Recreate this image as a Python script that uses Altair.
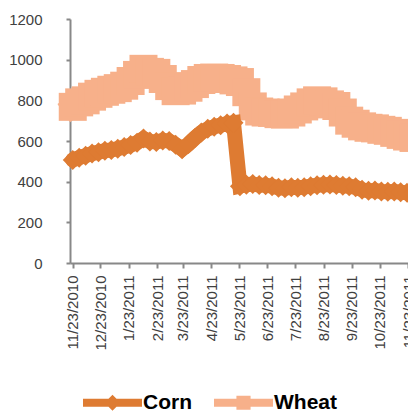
import altair as alt
import pandas as pd

# Weekly settlement readings, starting 11/23/2010
week_start = "2010-11-23"
n_weeks = 54

series_names = ["Corn", "Wheat"]
series_colors = ["#DE7B32", "#F7B08A"]

corn = [507, 518, 528, 538, 545, 552, 556, 562, 570, 580,
        592, 612, 598, 595, 603, 600, 582, 560, 585, 615,
        642, 660, 670, 678, 686, 690, 378, 385, 388, 383,
        382, 378, 370, 368, 372, 370, 373, 378, 382, 385,
        386, 384, 380, 378, 372, 360, 355, 356, 352, 350,
        352, 348, 345, 345]

wheat = [768, 790, 800, 818, 832, 842, 852, 860, 872, 895,
         925, 955, 940, 935, 905, 870, 845, 848, 862, 880,
         900, 910, 912, 910, 905, 898, 890, 840, 770, 745,
         740, 738, 732, 730, 740, 755, 770, 790, 800, 795,
         780, 772, 740, 700, 685, 672, 665, 662, 655, 650,
         640, 630, 622, 615]

tick_dates = [(2010, 11), (2010, 12), (2011, 1), (2011, 2), (2011, 3),
              (2011, 4), (2011, 5), (2011, 6), (2011, 7), (2011, 8),
              (2011, 9), (2011, 10), (2011, 11)]
y_ticks = [0, 200, 400, 600, 800, 1000, 1200]

dates = pd.date_range(week_start, periods=n_weeks, freq="7D")
df = pd.concat([
    pd.DataFrame({"date": dates, "series": "Corn", "value": corn}),
    pd.DataFrame({"date": dates, "series": "Wheat", "value": wheat}),
])

FONT = "Liberation Sans"
AXIS_GRAY = "#888888"
LABEL_GRAY = "#404040"
CORN_COLOR, WHEAT_COLOR = series_colors

x_enc = alt.X(
    "date:T",
    scale=alt.Scale(domain=[alt.DateTime(year=2010, month=11, date=20),
                            alt.DateTime(year=2011, month=11, date=23)]),
    axis=alt.Axis(
        values=[alt.DateTime(year=y, month=m, date=23) for y, m in tick_dates],
        format="%-m/%-d/%Y",
        labelAngle=-90,
        labelFont=FONT, labelFontSize=15, labelColor=LABEL_GRAY,
        labelPadding=7, tickSize=5, tickWidth=2, tickColor=AXIS_GRAY,
        domainColor=AXIS_GRAY, domainWidth=2,
        grid=False, title=None, labelOverlap=False, labelBound=False,
    ),
)
y_enc = alt.Y(
    "value:Q",
    scale=alt.Scale(domain=[0, 1200], nice=False),
    axis=alt.Axis(
        values=y_ticks, format="d",
        labelFont=FONT, labelFontSize=15, labelColor=LABEL_GRAY,
        labelPadding=24, tickSize=4, tickWidth=2, tickColor=AXIS_GRAY,
        domainColor=AXIS_GRAY, domainWidth=2,
        grid=False, title=None,
    ),
)

base = alt.Chart(df)
corn_data = base.transform_filter("datum.series == 'Corn'")
wheat_data = base.transform_filter("datum.series == 'Wheat'")

wheat_line = wheat_data.mark_line(
    strokeWidth=22, color=WHEAT_COLOR, strokeCap="square"
).encode(x=x_enc, y=y_enc)
wheat_marks = wheat_data.mark_point(
    shape="square", filled=True, size=784, opacity=1, color=WHEAT_COLOR
).encode(x=x_enc, y=y_enc)

corn_line = corn_data.mark_line(
    strokeWidth=15, color=CORN_COLOR, strokeCap="round"
).encode(x=x_enc, y=y_enc)
corn_marks = corn_data.mark_point(
    shape="diamond", filled=True, size=400, opacity=1, color=CORN_COLOR
).encode(x=x_enc, y=y_enc)

# Legend glyphs: a thick line segment with the series marker in the middle
legend_paths = [
    "M-1,-0.135L-0.135,-0.135L0,-0.27L0.135,-0.135L1,-0.135L1,0.135"
    "L0.135,0.135L0,0.27L-0.135,0.135L-1,0.135Z",
    "M-1,-0.135L-0.24,-0.135L-0.24,-0.24L0.24,-0.24L0.24,-0.135L1,-0.135"
    "L1,0.135L0.24,0.135L0.24,0.24L-0.24,0.24L-0.24,0.135L-1,0.135Z",
]
legend_def = alt.Legend(
    orient="none", legendX=13, legendY=354, direction="horizontal",
    title=None, symbolSize=3481, symbolStrokeWidth=0, symbolOpacity=1,
    labelFont=FONT, labelFontSize=21, labelFontWeight="bold",
    labelColor="#000000", labelOffset=1, columnPadding=22, padding=0,
)
legend_layer = base.transform_filter("datum.value < 0").mark_point(
    filled=True, size=3481, opacity=1
).encode(
    x=x_enc, y=y_enc,
    color=alt.Color("series:N",
                    scale=alt.Scale(domain=series_names, range=series_colors),
                    legend=legend_def),
    shape=alt.Shape("series:N",
                    scale=alt.Scale(domain=series_names, range=legend_paths),
                    legend=legend_def),
)

chart = alt.layer(
    wheat_line, wheat_marks, corn_line, corn_marks, legend_layer
).properties(
    width=338, height=244,
    autosize=alt.AutoSizeParams(type="none"),
    padding={"left": 70, "top": 19, "right": 0, "bottom": 151},
    background="white",
).configure_view(stroke=None)

chart.save("out.html", embed_options={"renderer": "svg", "actions": False})
